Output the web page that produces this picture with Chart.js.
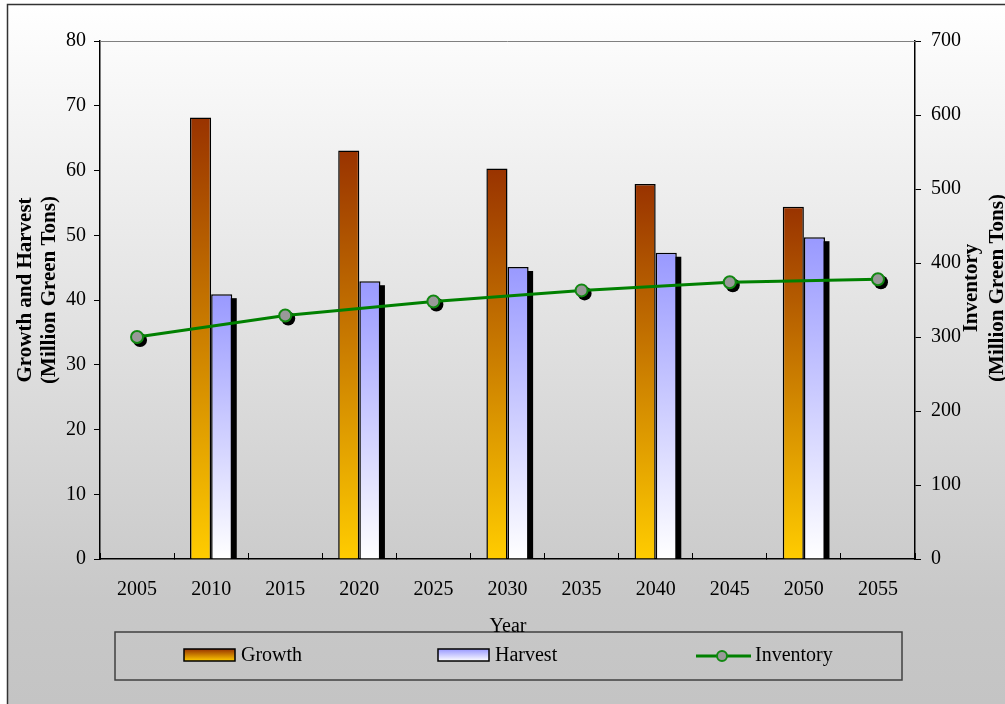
<!DOCTYPE html>
<html>
<head>
<meta charset="utf-8">
<title>Growth, Harvest and Inventory</title>
<script src="https://cdn.jsdelivr.net/npm/chart.js@4/dist/chart.umd.min.js"></script>
<style>
  body { margin: 0; background: #fff; }
  canvas { display: block; }
</style>
</head>
<body>
<canvas id="forestChart" width="1005" height="704"></canvas>
<script>
// years on the category axis
const years = ['2005', '2010', '2015', '2020', '2025', '2030', '2035', '2040', '2045', '2050', '2055'];
// million green tons per year (left axis)
const growth  = [null, 68.2, null, 63.1, null, 60.3, null, 57.9, null, 54.4, null];
const harvest = [null, 40.9, null, 42.9, null, 45.1, null, 47.3, null, 49.7, null];
// standing inventory, million green tons (right axis)
const inventory = [300, null, 329, null, 348, null, 363, null, 374, null, 378];

const leftTicks  = { min: 0, max: 80, step: 10 };
const rightTicks = { min: 0, max: 700, step: 100 };

const serif = "'Liberation Serif', 'Times New Roman', serif";

function verticalFill(c, top, bottom, fallback) {
    const chart = c.chart;
    const area = chart.chartArea;
    if (!area || c.type !== 'data' || c.raw == null) return fallback;
    const yTop = chart.scales.y.getPixelForValue(c.raw);
    const g = chart.ctx.createLinearGradient(0, yTop, 0, area.bottom);
    g.addColorStop(0, top);
    g.addColorStop(1, bottom);
    return g;
}

// page background, frame, shadows, titles and legend
const framePlugin = {
    id: 'frame',
    beforeDraw(chart) {
        const ctx = chart.ctx;
        ctx.save();
        ctx.fillStyle = '#ffffff';
        ctx.fillRect(0, 0, chart.width, chart.height);
        const g = ctx.createLinearGradient(0, 5, 0, chart.height);
        g.addColorStop(0, '#ffffff');
        g.addColorStop(0.85, '#c8c8c8');
        g.addColorStop(1, '#c4c4c4');
        ctx.fillStyle = g;
        ctx.fillRect(8, 5, chart.width, chart.height);
        ctx.strokeStyle = '#333333';
        ctx.lineWidth = 1.5;
        ctx.strokeRect(7.5, 4.5, chart.width + 20, chart.height + 20);
        ctx.restore();
    },
    beforeDatasetDraw(chart, args) {
        const ctx = chart.ctx;
        const meta = args.meta;
        ctx.save();
        ctx.fillStyle = '#000000';
        if (meta.type === 'bar' && args.index === 1) {
            // drop shadow behind the harvest bars
            meta.data.forEach((el, i) => {
                if (harvest[i] == null) return;
                ctx.fillRect(el.x - el.width / 2 + 4.5, el.y + 4, el.width, el.base - el.y - 4);
            });
        }
        if (meta.type === 'line') {
            meta.data.forEach((el, i) => {
                if (inventory[i] == null) return;
                ctx.beginPath();
                ctx.arc(el.x + 3, el.y + 3, 7, 0, Math.PI * 2);
                ctx.fill();
            });
        }
        ctx.restore();
    },
    afterDraw(chart) {
        const ctx = chart.ctx;
        const area = chart.chartArea;
        ctx.save();
        ctx.strokeStyle = '#808080';
        ctx.lineWidth = 1;
        ctx.beginPath();
        ctx.moveTo(area.left, area.top + 0.5);
        ctx.lineTo(area.right, area.top + 0.5);
        ctx.stroke();

        // axis titles
        ctx.fillStyle = '#000';
        ctx.textAlign = 'center';
        ctx.textBaseline = 'middle';
        ctx.font = 'bold 21px ' + serif;
        [['Growth and Harvest', 26], ['(Million Green Tons)', 50]].forEach(([t, x]) => {
            ctx.save();
            ctx.translate(x, 290);
            ctx.rotate(-Math.PI / 2);
            ctx.fillText(t, 0, 0);
            ctx.restore();
        });
        [['Inventory', 972], ['(Million Green Tons)', 998]].forEach(([t, x]) => {
            ctx.save();
            ctx.translate(x, 288);
            ctx.rotate(-Math.PI / 2);
            ctx.fillText(t, 0, 0);
            ctx.restore();
        });

        // legend box
        ctx.strokeStyle = '#404040';
        ctx.lineWidth = 1.5;
        ctx.strokeRect(115, 632, 787, 48);

        ctx.font = '20px ' + serif;
        ctx.fillText('Year', 508, 627);

        ctx.textAlign = 'left';
        const ly = 656;
        const swatch = (x, top, bottom) => {
            const g = ctx.createLinearGradient(0, 649, 0, 661);
            g.addColorStop(0, top);
            g.addColorStop(1, bottom);
            ctx.fillStyle = g;
            ctx.fillRect(x, 649, 51, 12);
            ctx.strokeStyle = '#000';
            ctx.lineWidth = 1.5;
            ctx.strokeRect(x, 649, 51, 12);
        };
        swatch(184, '#993300', '#ffcc00');
        swatch(438, '#9999ff', '#ffffff');
        ctx.fillStyle = '#000';
        ctx.fillText('Growth', 241, ly);
        ctx.fillText('Harvest', 495, ly);

        ctx.strokeStyle = '#008000';
        ctx.lineWidth = 3;
        ctx.beginPath();
        ctx.moveTo(696, ly);
        ctx.lineTo(751, ly);
        ctx.stroke();
        ctx.beginPath();
        ctx.arc(722, ly, 5, 0, Math.PI * 2);
        ctx.fillStyle = '#999999';
        ctx.fill();
        ctx.lineWidth = 2;
        ctx.strokeStyle = '#118811';
        ctx.stroke();
        ctx.fillStyle = '#000';
        ctx.fillText('Inventory', 755, ly);
        ctx.restore();
    }
};

const ctx = document.getElementById('forestChart').getContext('2d');
const chart = new Chart(ctx, {
    type: 'bar',
    data: {
        labels: years,
        datasets: [{
            label: 'Growth',
            data: growth,
            order: 1,
            backgroundColor: c => verticalFill(c, '#993300', '#ffcc00', '#cc7f00'),
            borderColor: '#000000',
            borderWidth: 1.5,
            yAxisID: 'y'
        }, {
            label: 'Harvest',
            data: harvest,
            order: 1,
            backgroundColor: c => verticalFill(c, '#9999ff', '#ffffff', '#ccccff'),
            borderColor: '#000000',
            borderWidth: 1.5,
            yAxisID: 'y'
        }, {
            type: 'line',
            label: 'Inventory',
            data: inventory,
            order: 0,
            spanGaps: true,
            tension: 0,
            borderColor: '#008000',
            borderWidth: 3,
            pointRadius: 6,
            pointBorderWidth: 2,
            pointBackgroundColor: '#999999',
            pointBorderColor: '#118811',
            yAxisID: 'y1'
        }]
    },
    options: {
        responsive: false,
        animation: false,
        events: [],
        devicePixelRatio: 1,
        layout: { padding: { top: 41, left: 0, right: 0, bottom: 0 } },
        datasets: {
            bar: { barPercentage: 1, categoryPercentage: 0.57 }
        },
        plugins: {
            legend: { display: false },
            tooltip: { enabled: false }
        },
        scales: {
            x: {
                offset: true,
                grid: { offset: true, drawOnChartArea: false, drawTicks: true, tickLength: -6, color: '#000' },
                border: { display: true, color: '#000', width: 1.5 },
                ticks: { color: '#000', font: { family: serif, size: 20 }, padding: 25, maxRotation: 0 },
                afterFit: s => { s.height = 145; }
            },
            y: {
                position: 'left',
                min: leftTicks.min,
                max: leftTicks.max,
                grid: { drawOnChartArea: false, tickLength: 6, color: '#000' },
                border: { display: true, color: '#000', width: 1.5 },
                ticks: { stepSize: leftTicks.step, color: '#000', font: { family: serif, size: 20 }, padding: 8 },
                afterFit: s => { s.width = 100; }
            },
            y1: {
                position: 'right',
                min: rightTicks.min,
                max: rightTicks.max,
                grid: { drawOnChartArea: false, tickLength: 6, color: '#000' },
                border: { display: true, color: '#000', width: 1.5 },
                ticks: { stepSize: rightTicks.step, color: '#000', font: { family: serif, size: 20 }, padding: 10 },
                afterFit: s => { s.width = 90; }
            }
        }
    },
    plugins: [framePlugin]
});
</script>
</body>
</html>
